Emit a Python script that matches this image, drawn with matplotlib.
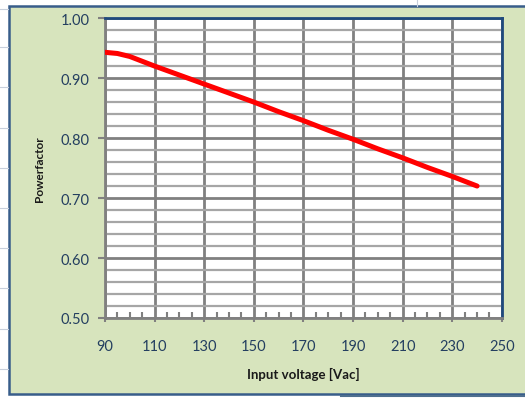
import matplotlib.pyplot as plt
from matplotlib.patches import Rectangle
from matplotlib.lines import Line2D
from matplotlib.ticker import MultipleLocator

# data
voltage = [90, 95, 100, 105, 110, 120, 130, 140, 150, 160, 170, 180, 190, 200, 210, 220, 230, 240]
power_factor = [0.943, 0.941, 0.936, 0.928, 0.920, 0.905, 0.890, 0.875, 0.860, 0.844, 0.829, 0.813, 0.798, 0.782, 0.767, 0.751, 0.736, 0.720]

x_ticks = [90, 110, 130, 150, 170, 190, 210, 230, 250]
y_ticks = [0.50, 0.60, 0.70, 0.80, 0.90, 1.00]

plt.rcParams['font.family'] = ['Lato', 'DejaVu Sans']

fig = plt.figure(figsize=(5.25, 4.02), dpi=100)
fig.patch.set_facecolor('white')

# faint spreadsheet cells behind the chart
for yy in [0.975, 0.88, 0.78, 0.68, 0.58, 0.48, 0.38, 0.28, 0.18, 0.08]:
    fig.add_artist(Line2D([0, 0.015], [yy, yy], color='#c8d0dc', lw=0.8))
fig.add_artist(Line2D([0.795, 0.795], [0.983, 1.0], color='#c8d0dc', lw=0.8))

# chart area frame
fig.add_artist(Rectangle((0.017, 0.017), 1.0, 0.966, facecolor='#d7e4bd',
                         edgecolor='#385d8a', lw=1.8, zorder=0))
fig.add_artist(Line2D([0.65, 1.0], [0.013, 0.013], color='#4f6f8f', lw=1.5))

ax = fig.add_axes([0.2, 0.2065, 0.756, 0.746])
ax.set_facecolor('white')

ax.plot(voltage, power_factor, color='#ff0000', lw=3.6, solid_capstyle='round', zorder=5)

ax.set_xlim(90, 250)
ax.set_ylim(0.5, 1.0)
ax.set_xticks(x_ticks)
ax.set_yticks(y_ticks)
ax.set_yticklabels(['%.2f' % v for v in y_ticks])
ax.xaxis.set_minor_locator(MultipleLocator(5))
ax.yaxis.set_minor_locator(MultipleLocator(0.02))

ax.grid(which='major', axis='both', color='#808080', lw=2.0, zorder=1)
ax.grid(which='minor', axis='y', color='#a6a6a6', lw=1.6, zorder=1)
ax.set_axisbelow(True)

ax.tick_params(axis='y', which='major', direction='out', length=5, width=1.5, color='#808080',
               labelsize=10.5, labelcolor='#243f60', pad=6)
ax.tick_params(axis='y', which='minor', length=0)
ax.tick_params(axis='x', which='major', direction='out', length=3, width=1.5, color='#808080',
               labelsize=10.5, labelcolor='#243f60', pad=12)
ax.tick_params(axis='x', which='minor', direction='in', length=4, width=1.5, color='#808080')

for s in ['left', 'bottom']:
    ax.spines[s].set_color('#808080')
    ax.spines[s].set_linewidth(2.0)
for s in ['top', 'right']:
    ax.spines[s].set_color('#1f497d')
    ax.spines[s].set_linewidth(2.0)

ax.set_xlabel('Input voltage [Vac]', fontsize=9.5, fontweight='bold', color='#1a1a1a', labelpad=10)
ax.set_ylabel('Powerfactor', fontsize=8.5, fontweight='bold', color='#1a1a1a')
ax.yaxis.set_label_coords(-0.15, 0.5)

fig.savefig('out.png', dpi=100)
